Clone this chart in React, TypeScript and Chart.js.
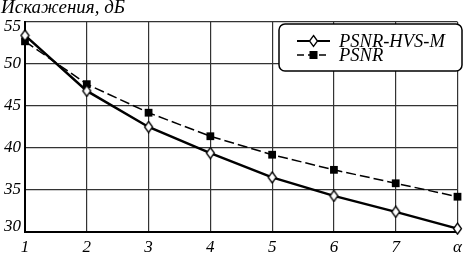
import React, { useEffect, useRef } from "react";
import { Chart, registerables } from "chart.js";

Chart.register(...registerables);

const categories = ["1", "2", "3", "4", "5", "6", "7", "α"];
const psnrHvsM = [53.4, 46.8, 42.5, 39.4, 36.5, 34.3, 32.4, 30.4];
const psnr = [52.7, 47.6, 44.2, 41.4, 39.2, 37.4, 35.8, 34.2];
const yTicks = [30, 35, 40, 45, 50, 55];
const yTitle = "Искажения, дБ";
const seriesNames = ["PSNR-HVS-M", "PSNR"];

const FONT = "'Liberation Serif', 'DejaVu Serif', serif";

function diamondPath(ctx: CanvasRenderingContext2D, x: number, y: number, rx: number, ry: number) {
  ctx.beginPath();
  ctx.moveTo(x, y - ry);
  ctx.lineTo(x + rx, y);
  ctx.lineTo(x, y + ry);
  ctx.lineTo(x - rx, y);
  ctx.closePath();
  ctx.fillStyle = "#fff";
  ctx.fill();
  ctx.lineWidth = 1.3;
  ctx.strokeStyle = "#000";
  ctx.stroke();
}

function makeDiamond(): HTMLCanvasElement {
  const c = document.createElement("canvas");
  c.width = 11;
  c.height = 13;
  const ctx = c.getContext("2d") as CanvasRenderingContext2D;
  diamondPath(ctx, 5.5, 6.5, 4, 5.5);
  return c;
}

const overlay = {
  id: "overlay",
  afterDraw(chart: any) {
    const ctx = chart.ctx as CanvasRenderingContext2D;
    const ys = chart.scales.y;
    ctx.save();
    ctx.fillStyle = "#000";
    ctx.font = `italic 17px ${FONT}`;
    ctx.textAlign = "right";
    ctx.textBaseline = "middle";
    yTicks.forEach((v, i) => {
      let py = ys.getPixelForValue(v);
      if (i === 0) py -= 5;
      if (i === yTicks.length - 1) py += 5;
      ctx.fillText(String(v), 21, py);
    });
    ctx.font = `italic 19px ${FONT}`;
    ctx.textAlign = "left";
    ctx.textBaseline = "alphabetic";
    ctx.fillText(yTitle, 1, 13);
    const bx = 279, by = 24, bw = 183, bh = 47, rr = 6;
    ctx.beginPath();
    ctx.roundRect(bx, by, bw, bh, rr);
    ctx.fillStyle = "#fff";
    ctx.fill();
    ctx.lineWidth = 1.5;
    ctx.strokeStyle = "#000";
    ctx.stroke();
    const rows = [41, 55];
    ctx.beginPath();
    ctx.moveTo(297, rows[0]);
    ctx.lineTo(330, rows[0]);
    ctx.lineWidth = 2.2;
    ctx.setLineDash([]);
    ctx.stroke();
    diamondPath(ctx, 313.5, rows[0], 4, 5.5);
    ctx.beginPath();
    ctx.moveTo(297, rows[1]);
    ctx.lineTo(330, rows[1]);
    ctx.lineWidth = 1.5;
    ctx.setLineDash([7, 4]);
    ctx.strokeStyle = "#000";
    ctx.stroke();
    ctx.setLineDash([]);
    ctx.fillStyle = "#000";
    ctx.fillRect(313.5 - 4, rows[1] - 4, 8, 8);
    ctx.font = `italic 18.5px ${FONT}`;
    ctx.textBaseline = "middle";
    ctx.fillText(seriesNames[0], 339, rows[0] + 1);
    ctx.fillText(seriesNames[1], 339, rows[1] + 1);
    ctx.restore();
  },
};

export default function App() {
  const ref = useRef<HTMLCanvasElement | null>(null);
  useEffect(() => {
    document.body.style.margin = "0";
    const diamond = makeDiamond();
    const chart = new Chart(ref.current as HTMLCanvasElement, {
      type: "line",
      data: {
        labels: categories,
        datasets: [
          {
            label: seriesNames[0],
            data: psnrHvsM,
            borderColor: "#000",
            borderWidth: 2.5,
            pointStyle: diamond as any,
            pointRadius: 6,
            tension: 0,
            clip: false as any,
            order: 1,
          },
          {
            label: seriesNames[1],
            data: psnr,
            borderColor: "#000",
            borderWidth: 1.5,
            borderDash: [10, 4],
            pointStyle: "rect",
            pointRadius: 5.5,
            pointBackgroundColor: "#000",
            pointBorderColor: "#000",
            pointBorderWidth: 0,
            tension: 0,
            clip: false as any,
            order: 2,
          },
        ],
      },
      options: {
        animation: false,
        responsive: false,
        maintainAspectRatio: false,
        layout: { padding: { top: 22, right: 1, left: 0, bottom: 0 } },
        plugins: { legend: { display: false }, tooltip: { enabled: false } },
        scales: {
          x: {
            type: "category",
            offset: false,
            grid: { color: "#333", lineWidth: 1.2, drawTicks: false },
            border: { color: "#000", width: 2 },
            ticks: {
              color: "#000",
              font: { family: FONT, size: 17, style: "italic" },
              padding: 5,
              maxRotation: 0,
              autoSkip: false,
            },
            afterFit(scale: any) {
              scale.height = 21;
              scale.paddingLeft = 0;
              scale.paddingRight = 0;
            },
          },
          y: {
            min: 30,
            max: 55,
            afterBuildTicks(scale: any) {
              scale.ticks = yTicks.map((v) => ({ value: v }));
            },
            grid: { color: "#333", lineWidth: 1.2, drawTicks: false },
            border: { color: "#000", width: 2 },
            ticks: { display: false },
            afterFit(scale: any) {
              scale.width = 25;
              scale.paddingTop = 0;
              scale.paddingBottom = 0;
            },
          },
        },
      },
      plugins: [overlay],
    });
    return () => chart.destroy();
  }, []);
  return <canvas ref={ref} width={466} height={253} />;
}
